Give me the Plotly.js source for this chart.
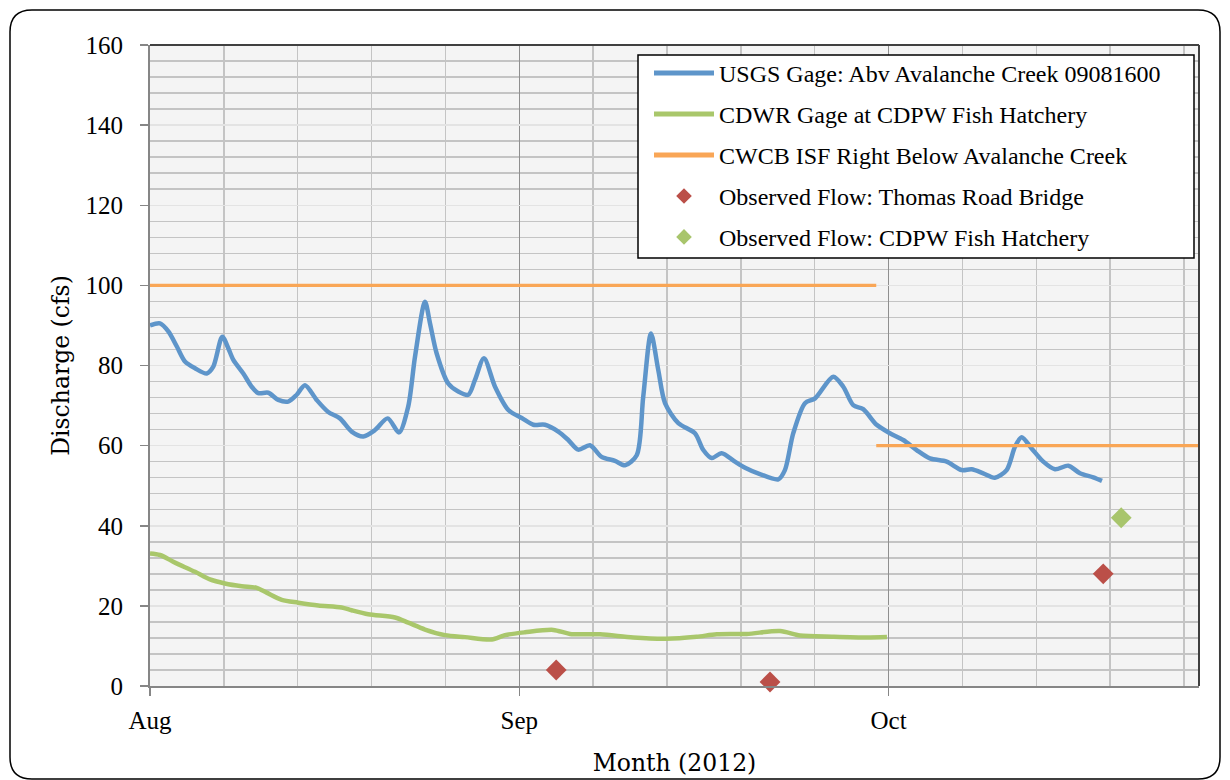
<!DOCTYPE html>
<html>
<head>
<meta charset="utf-8">
<script src="https://cdn.plot.ly/plotly-3.0.1.min.js"></script>
<style>
  html, body { margin: 0; padding: 0; background: #fff; }
  #chart { width: 1230px; height: 780px; }
</style>
</head>
<body>
<div id="chart"></div>
<script>
// Time is given as days after 1 Aug 2012 00:00
const usgsDay = [1.00,1.81,2.49,3.17,3.84,4.66,5.61,6.14,6.87,7.36,7.77,8.58,9.26,9.80,10.61,11.42,12.23,12.92,13.59,14.54,15.48,16.43,17.38,18.33,19.28,20.31,21.23,21.98,22.53,23.34,23.75,24.29,25.23,26.04,26.86,27.40,28.13,29.03,30.11,31.20,32.14,33.09,34.17,34.98,35.79,36.74,37.69,38.77,39.59,40.54,41.07,41.70,42.29,42.84,43.92,45.27,45.95,46.63,47.44,48.52,49.34,50.55,52.04,52.58,53.26,54.21,55.03,56.51,57.32,58.13,58.94,60.03,61.11,62.19,63.28,64.36,65.72,66.94,67.75,68.69,69.64,70.59,71.27,71.81,72.62,73.57,74.52,75.60,76.55,77.63,78.34];
const usgsFlow = [90,90.5,88.5,84.8,81,79.3,78,79.7,87.2,84.3,81.4,78,74.7,73.1,73.2,71.4,71,72.7,75.1,71.4,68.4,66.8,63.5,62.3,63.9,66.8,63.3,69.8,82.2,95.9,90.5,83,75.5,73.5,72.7,76.4,81.8,74.7,68.9,66.9,65.2,65.2,63.5,61.4,59,60.1,57.2,56.2,55.1,57.6,72.2,88,78.9,70.6,65.6,63.1,58.9,56.9,58.1,56,54.5,52.9,51.6,53.9,63.1,70.6,71.8,77.2,74.7,70.1,69.1,65.2,63.1,61.4,58.9,56.8,56.0,53.9,54.1,53.1,52.0,53.9,59.7,62.1,59.3,56.0,54.1,55.0,53.1,52.1,51.2];

const cdwrDay = [1.00,1.81,3.03,4.66,5.87,7.09,8.45,9.67,10.48,11.70,13.05,14.67,16.57,17.38,18.73,20.90,21.98,23.34,24.96,26.59,28.76,29.84,31.46,33.76,35.12,37.56,40.26,42.97,45.41,47.04,49.47,52.18,53.80,56.51,59.22,60.87];
const cdwrFlow = [33.1,32.7,30.8,28.5,26.6,25.6,24.9,24.5,23.3,21.5,20.8,20.1,19.6,18.9,17.9,17.1,15.8,14.1,12.7,12.2,11.6,12.7,13.4,14.0,13.0,12.9,12.1,11.8,12.3,12.9,13.0,13.7,12.6,12.3,12.1,12.2];

const cwcbDay = [1, 60, null, 60, 87];
const cwcbFlow = [100, 100, null, 60, 60];

const thomasDay = [34.0, 51.37, 78.44];
const thomasFlow = [4, 1, 28];

const hatcheryDay = [79.9];
const hatcheryFlow = [42];

const seriesNames = [
  'USGS Gage: Abv Avalanche Creek 09081600',
  'CDWR Gage at CDPW Fish Hatchery',
  'CWCB ISF Right Below Avalanche Creek',
  'Observed Flow: Thomas Road Bridge',
  'Observed Flow: CDPW Fish Hatchery'
];
const monthLabelFormat = '%b';
const axisStartDay = 1;
const axisEndDay = 86.22;

const DAY = 86400000;
const BASE = Date.UTC(2012, 7, 1);
const toMs = d => (d === null ? null : BASE + d * DAY);

const FONT = 'Liberation Serif, Times New Roman, serif';
const TITLE_FONT = 'DejaVu Serif, serif';

const traces = [
  {
    x: usgsDay.map(toMs), y: usgsFlow, name: seriesNames[0], legendgroup: 'a',
    type: 'scatter', mode: 'lines',
    line: { color: '#5e95ca', width: 4.5, shape: 'spline', smoothing: 0.8 }
  },
  {
    x: cdwrDay.map(toMs), y: cdwrFlow, name: seriesNames[1], legendgroup: 'b',
    type: 'scatter', mode: 'lines',
    line: { color: '#a9c76b', width: 4.5, shape: 'spline', smoothing: 0.8 }
  },
  {
    x: cwcbDay.map(toMs), y: cwcbFlow, name: seriesNames[2], legendgroup: 'c',
    type: 'scatter', mode: 'lines', connectgaps: false,
    line: { color: '#f9a656', width: 3.2 }
  },
  {
    x: thomasDay.map(toMs), y: thomasFlow, name: seriesNames[3], legendgroup: 'd',
    type: 'scatter', mode: 'markers', cliponaxis: false,
    marker: { symbol: 'diamond', size: 16, color: '#bb4f48' }
  },
  {
    x: hatcheryDay.map(toMs), y: hatcheryFlow, name: seriesNames[4], legendgroup: 'e',
    type: 'scatter', mode: 'markers', cliponaxis: false,
    marker: { symbol: 'diamond', size: 16, color: '#a8c56c' }
  }
];

// pixel -> paper helpers for decorative frames
const W = 1049, H = 641, L = 150, B = 686;
const px = v => (v - L) / W;
const py = v => (B - v) / H;
const x0 = px(10), x1 = px(1220), y1 = py(10), y0 = py(779);
const rx = 22 / W, ry = 22 / H;
const framePath = `M ${x0+rx},${y1} L ${x1-rx},${y1} Q ${x1},${y1} ${x1},${y1-ry} L ${x1},${y0+ry} Q ${x1},${y0} ${x1-rx},${y0} L ${x0+rx},${y0} Q ${x0},${y0} ${x0},${y0+ry} L ${x0},${y1-ry} Q ${x0},${y1} ${x0+rx},${y1} Z`;

const layout = {
  width: 1230, height: 780,
  margin: { l: 150, r: 31, t: 45, b: 94 },
  paper_bgcolor: '#ffffff',
  plot_bgcolor: '#f4f4f4',
  font: { family: FONT, size: 24, color: '#000' },
  showlegend: true,
  legend: {
    x: px(649), y: py(51), xanchor: 'left', yanchor: 'top',
    bgcolor: 'rgba(0,0,0,0)', bordercolor: '#000000', borderwidth: 0,
    font: { family: FONT, size: 24, color: '#000' },
    itemwidth: 60, tracegroupgap: 6.75, traceorder: 'grouped', itemsizing: 'constant'
  },
  xaxis: {
    type: 'date',
    range: [toMs(axisStartDay), toMs(axisEndDay)],
    tick0: toMs(axisStartDay), dtick: 30 * DAY, tickformat: monthLabelFormat,
    showgrid: true, gridcolor: '#8f8f8f', gridwidth: 1.5,
    showline: true, linecolor: '#868686', linewidth: 2,
    ticks: 'outside', ticklen: 8, tickcolor: '#868686', tickwidth: 1.5,
    ticklabelstandoff: 3,
    tickfont: { family: FONT, size: 25, color: '#000' },
    minor: { tick0: toMs(axisStartDay), dtick: 6 * DAY, showgrid: true, gridcolor: '#c4c4c4', gridwidth: 1.5 },
    zeroline: false,
    title: { text: 'Month (2012)', font: { family: TITLE_FONT, size: 23.5, color: '#000' }, standoff: 22 },
    automargin: false
  },
  yaxis: {
    range: [0, 160], tick0: 0, dtick: 20,
    showgrid: true, gridcolor: '#e3e3e3', gridwidth: 1.5,
    showline: true, linecolor: '#868686', linewidth: 2,
    ticks: 'outside', ticklen: 8, tickcolor: '#868686', tickwidth: 1.5,
    ticklabelstandoff: 12,
    tickfont: { family: FONT, size: 25, color: '#000' },
    minor: { dtick: 4, showgrid: true, gridcolor: '#c4c4c4', gridwidth: 1.5 },
    zeroline: false,
    title: { text: 'Discharge (cfs)', font: { family: TITLE_FONT, size: 23.5, color: '#000' }, standoff: 9 },
    automargin: false
  },
  shapes: [
    { type: 'line', xref: 'paper', yref: 'paper', x0: 0, x1: 1, y0: 1, y1: 1, line: { color: '#404040', width: 2 } },
    { type: 'line', xref: 'paper', yref: 'paper', x0: 1, x1: 1, y0: 0, y1: 1, line: { color: '#404040', width: 2 } },
    { type: 'rect', xref: 'paper', yref: 'paper', layer: 'above', x0: px(638), x1: px(1194), y0: py(258), y1: py(55), line: { color: '#000000', width: 1.5 }, fillcolor: '#ffffff' },
    { type: 'path', xref: 'paper', yref: 'paper', path: framePath, line: { color: '#000000', width: 1.5 }, fillcolor: 'rgba(0,0,0,0)' }
  ]
};

Plotly.newPlot('chart', traces, layout, { displayModeBar: false, staticPlot: true });
</script>
</body>
</html>
